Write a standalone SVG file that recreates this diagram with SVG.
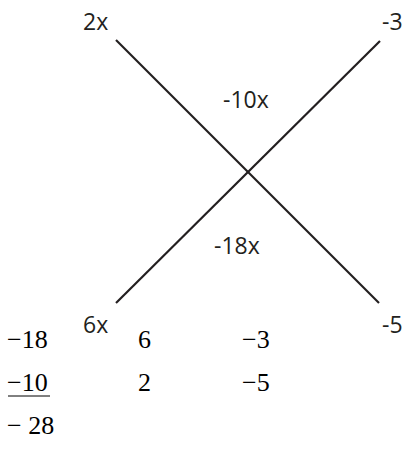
<svg xmlns="http://www.w3.org/2000/svg" width="406" height="452" viewBox="0 0 406 452">
<style>
.s{font-family:"Open Sans","Noto Sans",sans-serif;font-size:23px;fill:#231f20}
.ln{stroke:#231f20;stroke-width:2.2;fill:none}
</style>
<rect width="406" height="452" fill="#fff"/>
<g id="connectors">
<line class="ln" x1="116" y1="40" x2="379" y2="303"/>
<line class="ln" x1="380" y1="41" x2="116" y2="303"/>
</g>
<g id="n-2x"><text class="s" x="83" y="30">2x</text></g>
<g id="n-m3"><text class="s" x="382" y="30">-3</text></g>
<g id="n-m10x"><text class="s" x="223" y="108">-10x</text></g>
<g id="n-m18x"><text class="s" x="214" y="254">-18x</text></g>
<g id="n-6x"><text class="s" x="83" y="333">6x</text></g>
<g id="n-m5"><text class="s" x="382" y="333">-5</text></g>
<g id="calc" font-family="Liberation Serif, DejaVu Serif, serif" font-size="26" fill="#000">
<text x="7" y="348">−18</text>
<text x="138" y="348">6</text>
<text x="242" y="348">−3</text>
<text x="7" y="391">−10</text>
<line x1="8" y1="396" x2="50" y2="396" stroke="#000" stroke-width="1"/>
<text x="138" y="391">2</text>
<text x="242" y="391">−5</text>
<text x="7" y="434">− 28</text>
</g>
</svg>
